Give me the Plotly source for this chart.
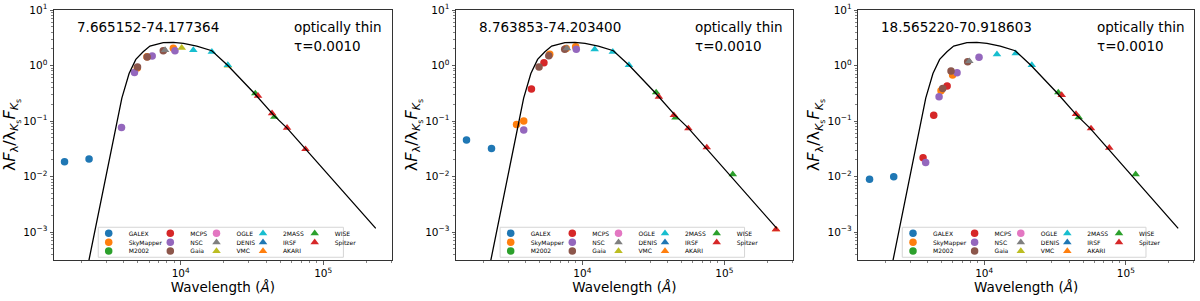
import plotly.graph_objects as go

# ---------------- data ----------------
SURVEYS = ["GALEX", "SkyMapper", "M2002", "MCPS", "NSC", "Gaia", "OGLE",
           "DENIS", "VMC", "2MASS", "IRSF", "AKARI", "WISE", "Spitzer"]
SURVEY_COLORS = ["#1f77b4", "#ff7f0e", "#2ca02c", "#d62728", "#9467bd", "#8c564b", "#e377c2",
                 "#7f7f7f", "#bcbd22", "#17becf", "#1f77b4", "#ff7f0e", "#2ca02c", "#d62728"]
SURVEY_SYMBOLS = ["circle"] * 7 + ["triangle-up"] * 7

SOURCE_NAMES = ["7.665152-74.177364", "8.763853-74.203400", "18.565220-70.918603"]
SOURCE_MODEL = ["optically thin", "optically thin", "optically thin"]
SOURCE_TAU = ["τ=0.0010", "τ=0.0010", "τ=0.0010"]

# source 1
S1_SURVEY = ["GALEX", "GALEX",
             "SkyMapper", "SkyMapper", "SkyMapper",
             "NSC", "NSC", "NSC", "NSC",
             "Gaia", "Gaia", "Gaia",
             "DENIS",
             "VMC", "VMC",
             "2MASS", "2MASS", "2MASS",
             "WISE", "WISE",
             "Spitzer", "Spitzer", "Spitzer", "Spitzer"]
S1_WAVE = [1531, 2275,
           4960, 5800, 8880,
           3845, 4740, 6310, 9120,
           4980, 5820, 7550,
           7770,
           10170, 21470,
           12270, 16550, 21430,
           33400, 45400,
           34900, 43800, 55800, 75200]
S1_FLUX = [0.0185, 0.0207,
           0.90, 1.44, 2.04,
           0.077, 0.753, 1.48, 1.85,
           0.94, 1.42, 1.85,
           1.90,
           2.09, 1.00,
           1.90, 1.77, 1.02,
           0.315, 0.119,
           0.286, 0.138, 0.0758, 0.0313]

# source 2
S2_SURVEY = ["GALEX", "GALEX",
             "SkyMapper", "SkyMapper", "SkyMapper", "SkyMapper", "SkyMapper",
             "MCPS", "MCPS",
             "NSC", "NSC",
             "Gaia", "Gaia", "Gaia",
             "DENIS",
             "2MASS", "2MASS", "2MASS",
             "AKARI",
             "WISE", "WISE", "WISE",
             "Spitzer", "Spitzer", "Spitzer", "Spitzer", "Spitzer"]
S2_WAVE = [1531, 2296,
           3444, 3870, 5900, 7700, 8980,
           4385, 5370,
           3870, 9070,
           4960, 5810, 7520,
           7800,
           12220, 16400, 21300,
           231000,
           33100, 45300, 114600,
           34600, 44100, 55800, 75200, 231000]
S2_FLUX = [0.0455, 0.0322,
           0.0873, 0.100, 1.59, 2.02, 2.18,
           0.377, 1.12,
           0.0689, 1.96,
           0.94, 1.50, 1.96,
           2.04,
           1.96, 1.77, 1.02,
           0.00112,
           0.329, 0.115, 0.011,
           0.274, 0.128, 0.0738, 0.0336, 0.00112]

# source 3
S3_SURVEY = ["GALEX", "GALEX",
             "SkyMapper", "SkyMapper",
             "MCPS", "MCPS", "MCPS",
             "NSC", "NSC", "NSC", "NSC",
             "Gaia", "Gaia", "Gaia",
             "DENIS",
             "2MASS", "2MASS", "2MASS",
             "WISE", "WISE", "WISE",
             "Spitzer", "Spitzer", "Spitzer", "Spitzer"]
S3_WAVE = [1550, 2296,
           4955, 5980,
           3700, 4400, 5470,
           3860, 4800, 6430, 9190,
           5090, 5830, 7640,
           7850,
           12300, 16700, 21680,
           33340, 46450, 117200,
           35240, 44460, 56750, 76380]
S3_FLUX = [0.00902, 0.00993,
           0.352, 0.674,
           0.0218, 0.128, 0.428,
           0.018, 0.274, 0.74, 1.41,
           0.388, 0.80, 1.17,
           1.20,
           1.59, 1.66, 1.02,
           0.329, 0.117, 0.011,
           0.294, 0.134, 0.0738, 0.033]

# model SED (same normalised optically-thin model in all panels)
MODEL_WAVE = [2000, 3265, 3550, 3865, 4345, 4845, 5455, 6085, 7550, 8875, 10450,
              12970, 16550, 21430, 32480, 44900, 55800, 75200, 234000]
MODEL_FLUX = [6.3e-5, 0.030, 0.100, 0.26, 0.72, 1.29, 1.77, 2.24, 2.58, 2.62, 2.51,
              2.24, 1.85, 1.00, 0.327, 0.128, 0.0748, 0.0313, 0.00117]

X_TICKS = [1e4, 1e5]
X_TICK_TEXT = ["10<sup>4</sup>", "10<sup>5</sup>"]
X_MINOR = [2000, 3000, 4000, 5000, 6000, 7000, 8000, 9000,
           20000, 30000, 40000, 50000, 60000, 70000, 80000, 90000, 200000, 300000]
Y_TICKS = [1e-3, 1e-2, 1e-1, 1, 10]
Y_TICK_TEXT = ["10<sup>−3</sup>", "10<sup>−2</sup>", "10<sup>−1</sup>", "10<sup>0</sup>", "10<sup>1</sup>"]
Y_MINOR = [m * 10.0 ** e for e in (-4, -3, -2, -1, 0) for m in range(2, 10)]

SOURCES = [(S1_SURVEY, S1_WAVE, S1_FLUX), (S2_SURVEY, S2_WAVE, S2_FLUX), (S3_SURVEY, S3_WAVE, S3_FLUX)]

# ---------------- layout geometry ----------------
W, H = 1200, 301
PANEL_PX = [(54, 391.7), (456, 792.7), (858.3, 1194)]
TOP_PX, BOT_PX = 10, 260
X_RANGE = [3.111, 5.481]
Y_RANGE = [-3.5, 1.0]
FONT = "DejaVu Sans"

LEG_COL_PX = [52.7, 114.3, 160.5, 207.0, 258.7]  # symbol centre from panel left
LEG_ROW_PX = [233.3, 242.3, 251.0]
SYMBOL_OFFSET = 18

fig = go.Figure()
layout = dict(width=W, height=H, margin=dict(l=0, r=0, t=0, b=0),
              paper_bgcolor="white", plot_bgcolor="white",
              font=dict(family=FONT, color="black"))
annotations = []
shapes = []
leg_n = 0

for p, (surv, wave, flux) in enumerate(SOURCES):
    sfx = "" if p == 0 else str(p + 1)
    xa, ya = "x" + sfx, "y" + sfx
    x0, x1 = PANEL_PX[p]
    for i, name in enumerate(SURVEYS):
        xs = [w for s, w in zip(surv, wave) if s == name]
        ys = [f for s, f in zip(surv, flux) if s == name]
        if not xs:
            xs, ys = [None], [None]
        leg_n += 1
        lid = "legend" if leg_n == 1 else "legend%d" % leg_n
        fig.add_trace(go.Scatter(
            x=xs, y=ys, mode="markers", name=name, xaxis=xa, yaxis=ya,
            marker=dict(color=SURVEY_COLORS[i], symbol=SURVEY_SYMBOLS[i], size=7.5,
                        line=dict(width=0)),
            legend=lid, showlegend=True, hoverinfo="skip"))
        c, r = i // 3, i % 3
        layout[lid] = dict(
            x=(x0 + LEG_COL_PX[c] - SYMBOL_OFFSET) / W, y=1 - LEG_ROW_PX[r] / H,
            xanchor="left", yanchor="middle", bgcolor="rgba(0,0,0,0)", borderwidth=0,
            font=dict(size=6, family=FONT, color="black"), itemclick=False, itemdoubleclick=False)
    fig.add_trace(go.Scatter(x=MODEL_WAVE, y=MODEL_FLUX, mode="lines", xaxis=xa, yaxis=ya,
                             line=dict(color="black", width=1.3), showlegend=False, hoverinfo="skip"))

    dom_x = [x0 / W, x1 / W]
    dom_y = [1 - BOT_PX / H, 1 - TOP_PX / H]
    common = dict(type="log", showgrid=False, zeroline=False, showline=True, linecolor="#333",
                  linewidth=1, mirror=True, ticks="outside", ticklen=3.5, tickwidth=0.8,
                  tickcolor="#333", tickfont=dict(size=10.5, family=FONT, color="black"),
                  automargin=False)
    layout["xaxis" + sfx] = dict(common, domain=dom_x, range=X_RANGE, anchor=ya,
                                 tickvals=X_TICKS, ticktext=X_TICK_TEXT,
                                 minor=dict(tickvals=X_MINOR, ticks="outside", ticklen=2,
                                            tickwidth=0.6, tickcolor="#333", showgrid=False),
                                 title=dict(text="Wavelength (<i>Å</i>)", standoff=4,
                                            font=dict(size=13.5, family=FONT)))
    layout["yaxis" + sfx] = dict(common, domain=dom_y, range=Y_RANGE, anchor=xa,
                                 tickvals=Y_TICKS, ticktext=Y_TICK_TEXT,
                                 minor=dict(tickvals=Y_MINOR, ticks="outside", ticklen=2,
                                            tickwidth=0.6, tickcolor="#333", showgrid=False),
                                 title=dict(text="λ<i>F</i><sub>λ</sub>/λ<sub><i>K</i><sub>s</sub></sub><i>F</i><sub><i>K</i><sub>s</sub></sub>",
                                            standoff=3, font=dict(size=16, family=FONT)))
    annotations.append(dict(text=SOURCE_NAMES[p], xref=xa + " domain", yref=ya + " domain",
                            x=0.062, y=0.93, xanchor="left", yanchor="middle", showarrow=False,
                            font=dict(size=13.5, family=FONT, color="black")))
    annotations.append(dict(text=SOURCE_MODEL[p], xref=xa + " domain", yref=ya + " domain",
                            x=0.705, y=0.93, xanchor="left", yanchor="middle", showarrow=False,
                            font=dict(size=13.5, family=FONT, color="black")))
    annotations.append(dict(text=SOURCE_TAU[p], xref=xa + " domain", yref=ya + " domain",
                            x=0.705, y=0.857, xanchor="left", yanchor="middle", showarrow=False,
                            font=dict(size=13.5, family=FONT, color="black")))
    shapes.append(dict(type="rect", xref=xa + " domain", yref=ya + " domain",
                       x0=0.131, x1=0.857, y0=0.011, y1=0.131,
                       line=dict(color="#d5d5d5", width=1), fillcolor="rgba(255,255,255,0.8)",
                       layer="above"))

layout["annotations"] = annotations
layout["shapes"] = shapes
fig.update_layout(**layout)
fig.write_html("out.html", config={"displayModeBar": False, "staticPlot": True},
               post_script="document.body.style.margin='0';document.body.style.padding='0';"
                           "document.body.style.overflow='hidden';")
